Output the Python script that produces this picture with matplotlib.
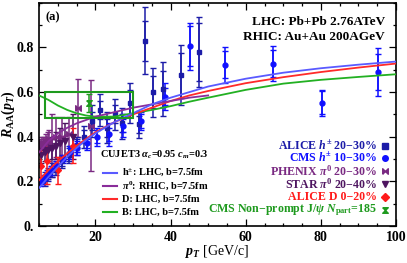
import matplotlib
matplotlib.use('Agg')
import matplotlib.pyplot as plt
from matplotlib.path import Path
from matplotlib.patches import Rectangle

plt.rcParams['font.family'] = ['Liberation Serif', 'DejaVu Serif']
plt.rcParams['font.weight'] = 'bold'
plt.rcParams['mathtext.fontset'] = 'custom'
plt.rcParams['mathtext.rm'] = 'Liberation Serif:bold'
plt.rcParams['mathtext.bf'] = 'Liberation Serif:bold'
plt.rcParams['mathtext.it'] = 'Liberation Serif:italic:bold'

# ---------------- dane ----------------
# krzywe CUJET3
pt_curve = [5, 7.5, 10, 12.5, 15, 17.5, 20, 25, 30, 35, 40, 45, 50, 60, 70, 80, 90, 100]
h_lhc = [0.17, 0.22, 0.265, 0.31, 0.35, 0.385, 0.415, 0.465, 0.505, 0.545, 0.575, 0.60, 0.625, 0.66, 0.687, 0.707, 0.723, 0.737]
d_lhc = [0.205, 0.25, 0.29, 0.325, 0.36, 0.39, 0.42, 0.465, 0.50, 0.53, 0.56, 0.585, 0.605, 0.64, 0.667, 0.69, 0.71, 0.728]
b_lhc = [0.585, 0.565, 0.54, 0.52, 0.505, 0.495, 0.49, 0.49, 0.505, 0.52, 0.537, 0.557, 0.575, 0.61, 0.638, 0.655, 0.668, 0.68]
pt_pi0 = [5, 7.5, 10, 12.5, 15, 17.5, 20, 25, 30, 35, 40, 45, 50]
pi0_rhic = [0.33, 0.38, 0.415, 0.44, 0.46, 0.475, 0.49, 0.51, 0.53, 0.545, 0.56, 0.575, 0.585]

# ALICE h+- 20-30%
alice_pt = [6.5, 7.5, 8.5, 9.5, 11, 13, 15, 17, 19.2, 21.3, 23, 25.3, 27, 29.3, 31.5, 33.1, 35.2, 38.1, 42.7, 47.5]
alice_r = [0.21, 0.23, 0.25, 0.26, 0.29, 0.32, 0.36, 0.40, 0.47, 0.52, 0.44, 0.50, 0.46, 0.55, 0.455, 0.83, 0.60, 0.615, 0.675, 0.78]
alice_err = [0.03, 0.03, 0.03, 0.03, 0.03, 0.04, 0.04, 0.05, 0.07, 0.07, 0.07, 0.07, 0.07, 0.09, 0.06, 0.15, 0.11, 0.12, 0.135, 0.155]
alice_err_in = [0.02, 0.02, 0.02, 0.02, 0.02, 0.03, 0.03, 0.03, 0.04, 0.04, 0.04, 0.04, 0.04, 0.06, 0.04, 0.09, 0.07, 0.08, 0.10, 0.13]

# CMS h+- 10-30%
cms_pt = [5.2, 6.2, 7.2, 8.2, 9.6, 11.4, 13.1, 15.2, 17.7, 20.5, 23.7, 27.4, 32.2, 38.4, 45.1, 54.4, 67.2, 80.3, 95.2]
cms_r = [0.20, 0.21, 0.23, 0.25, 0.27, 0.30, 0.33, 0.35, 0.37, 0.40, 0.41, 0.45, 0.47, 0.58, 0.805, 0.723, 0.727, 0.553, 0.69]
cms_err = [0.02, 0.02, 0.02, 0.02, 0.02, 0.02, 0.03, 0.03, 0.03, 0.04, 0.05, 0.05, 0.04, 0.06, 0.105, 0.08, 0.078, 0.058, 0.107]
cms_err_in = [0.01, 0.01, 0.01, 0.01, 0.01, 0.01, 0.02, 0.02, 0.02, 0.03, 0.03, 0.03, 0.03, 0.04, 0.09, 0.06, 0.06, 0.05, 0.08]

# PHENIX pi0 20-30%
phenix_pt = [5.25, 5.75, 6.25, 6.75, 7.25, 7.75, 8.5, 9.5, 11, 13, 15.3, 18.8]
phenix_r = [0.36, 0.37, 0.37, 0.38, 0.38, 0.39, 0.36, 0.40, 0.40, 0.41, 0.53, 0.45]
phenix_err = [0.03, 0.03, 0.03, 0.03, 0.04, 0.04, 0.14, 0.09, 0.09, 0.08, 0.13, 0.205]

# STAR pi0 20-40%
star_pt = [5.5, 6.5, 7.5, 8.5, 9.5, 10.5, 12, 14]
star_r = [0.32, 0.33, 0.34, 0.35, 0.36, 0.37, 0.38, 0.40]
star_err = [0.04, 0.04, 0.05, 0.05, 0.06, 0.07, 0.08, 0.10]

# ALICE D 0-20%
d_pt = [5.5, 7, 10, 14]
d_r = [0.27, 0.29, 0.25, 0.36]
d_err = [0.07, 0.10, 0.06, 0.08]

# CMS non-prompt J/psi
jpsi_pt = [18.2]
jpsi_r = [0.55]
jpsi_err = [0.04]
jpsi_box_pt = [6.5, 30]
jpsi_box_r = [0.485, 0.60]

# kolory
c_hline = '#5a5aff'
c_pline = '#8a2d9a'
c_dline = '#ff2a2a'
c_bline = '#22b022'
c_alice = '#1c1ca8'
c_cms = '#1010ff'
c_phenix = '#7a2a82'
c_star = '#4e1560'
c_dmes = '#ff1a1a'
c_jpsi = '#1e9a1e'

bowtie = Path([(-1, -1), (-1, 1), (0, 0), (1, 1), (1, -1), (0, 0), (-1, -1)])
hourglass = Path([(-1, 1), (1, 1), (0, 0), (1, -1), (-1, -1), (0, 0), (-1, 1)])

fig = plt.figure(figsize=(4.07, 2.63), dpi=100)
ax = fig.add_axes([0.096, 0.141, 0.877, 0.848])

# krzywe teoretyczne
ax.plot(pt_curve, b_lhc, color=c_bline, lw=1.3, zorder=5)
ax.plot(pt_curve, d_lhc, color=c_dline, lw=1.3, zorder=5)
ax.plot(pt_pi0, pi0_rhic, color=c_pline, lw=1.3, zorder=5)
ax.plot(pt_curve, h_lhc, color=c_hline, lw=1.3, zorder=5)

# dane eksperymentalne
eb = dict(capsize=2.2, elinewidth=1.1, capthick=1.0, ls='none')
ax.errorbar(phenix_pt, phenix_r, yerr=phenix_err, color=c_phenix, marker=bowtie, ms=4, **eb)
ax.errorbar(star_pt, star_r, yerr=star_err, color=c_star, marker='v', ms=4, **eb)
ax.errorbar(alice_pt, alice_r, yerr=alice_err, color=c_alice, marker='s', ms=3.5, **eb)
ax.errorbar(alice_pt, alice_r, yerr=alice_err_in, color=c_alice, marker='none', **eb)
ax.errorbar(cms_pt, cms_r, yerr=cms_err, color=c_cms, marker='o', ms=3.5, **eb)
ax.errorbar(cms_pt, cms_r, yerr=cms_err_in, color=c_cms, marker='none', **eb)
ax.errorbar(d_pt, d_r, yerr=d_err, color=c_dmes, marker='D', ms=3, **eb)
ax.add_patch(Rectangle((jpsi_box_pt[0], jpsi_box_r[0]), jpsi_box_pt[1] - jpsi_box_pt[0],
                       jpsi_box_r[1] - jpsi_box_r[0], fill=False, ec=c_jpsi, lw=1.5, zorder=6))
ax.errorbar(jpsi_pt, jpsi_r, yerr=jpsi_err, color=c_jpsi, marker=hourglass, ms=4, zorder=7, **eb)

# osie
ax.set_xlim(5, 100)
ax.set_ylim(0, 1.0)
ax.set_xticks([20, 40, 60, 80, 100])
ax.set_xticks(range(5, 100, 5), minor=True)
ax.set_yticks([0, 0.2, 0.4, 0.6, 0.8])
ax.set_yticklabels(['0.', '0.2', '0.4', '0.6', '0.8'])
ax.set_yticks([0.1, 0.3, 0.5, 0.7, 0.9, 1.0], minor=True)
ax.tick_params(which='both', direction='in', top=True, right=True, labelsize=10, width=0.9)
ax.tick_params(which='major', length=5)
ax.tick_params(which='minor', length=2.5)
for s in ax.spines.values():
    s.set_linewidth(1.2)
ax.set_xlabel('$p_T$ [GeV/c]', fontsize=10)
ax.set_ylabel('$R_{\\rm AA}(p_T)$', fontsize=10)
ax.xaxis.set_label_coords(0.5, -0.075)
ax.yaxis.set_label_coords(-0.062, 0.5)

# napisy
tr = ax.transAxes
ax.text(0.017, 0.937, '(a)', transform=tr, fontsize=9, va='center')
ax.text(0.969, 0.915, 'LHC: Pb+Pb 2.76ATeV', transform=tr, fontsize=9.5, ha='right', va='center')
ax.text(0.969, 0.848, 'RHIC: Au+Au 200AGeV', transform=tr, fontsize=9.5, ha='right', va='center')

ax.text(0.171, 0.318, 'CUJET3 $\\alpha_c$=0.95 $c_m$=0.3', transform=tr, fontsize=7.5, va='center')
leg_rows = [('h$^{\\pm}$: LHC, b=7.5fm', c_hline, 0.238),
            ('$\\pi^0$: RHIC, b=7.5fm', c_pline, 0.180),
            ('D: LHC, b=7.5fm', c_dline, 0.121),
            ('B: LHC, b=7.5fm', c_bline, 0.063)]
for txt, col, y in leg_rows:
    ax.plot([0.179, 0.218], [y, y], color=col, lw=1.5, transform=tr)
    ax.text(0.232, y, txt, transform=tr, fontsize=7.5, va='center')

data_rows = [('ALICE $h^{\\pm}$ 20\u221230%', c_alice, 's', 0.359),
             ('CMS $h^{\\pm}$ 10\u221230%', c_cms, 'o', 0.303),
             ('PHENIX $\\pi^0$ 20\u221230%', c_phenix, bowtie, 0.247),
             ('STAR $\\pi^0$ 20\u221240%', c_star, 'v', 0.188),
             ('ALICE D 0\u221220%', c_dmes, 'D', 0.130),
             ('CMS Non\u2212prompt J/$\\psi$ $N_{\\rm part}$=185', c_jpsi, hourglass, 0.072)]
for txt, col, mk, y in data_rows:
    ax.text(0.947, y, txt, transform=tr, fontsize=8.6, ha='right', va='center', color=col)
    ax.plot([0.968], [y], marker=mk, color=col, ms=4, ls='none', transform=tr)

fig.savefig('out.png', dpi=100)
